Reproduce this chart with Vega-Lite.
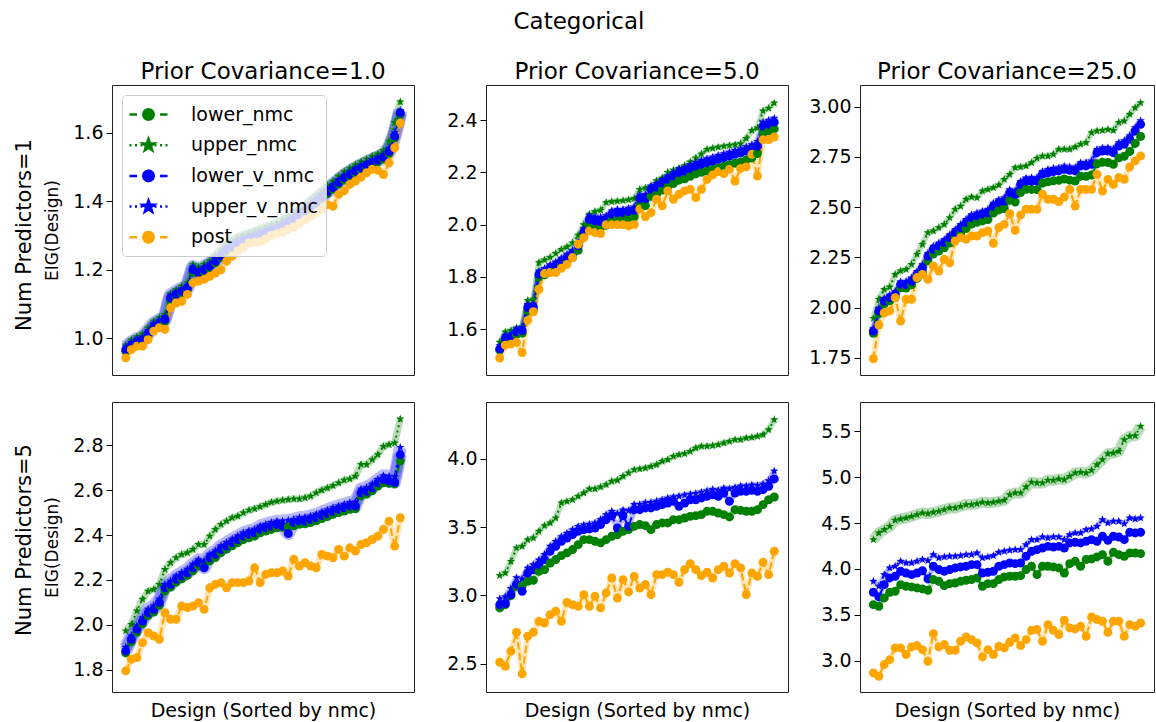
{
"$schema": "https://vega.github.io/schema/vega-lite/v6.json",
"padding": {"left": 13, "top": 10, "right": 0, "bottom": 2},
"title": {"text": "Categorical", "fontSize": 23, "offset": 9, "baseline": "alphabetic", "anchor": "middle", "dx": -5, "font": "DejaVu Sans", "fontWeight": "normal", "color": "black"},
"config": {
  "font": "DejaVu Sans",
  "view": {"stroke": "#222222", "strokeWidth": 1},
  "axis": {"grid": false, "domain": false, "labelFont": "DejaVu Sans", "titleFont": "DejaVu Sans", "labelFontSize": 19, "labelColor": "black", "titleColor": "black", "titleFontWeight": "normal", "tickColor": "black", "tickSize": 6, "tickWidth": 1, "labelPadding": 3, "labelOverlap": false},
  "title": {"font": "DejaVu Sans", "fontWeight": "normal", "color": "black", "fontSize": 23}
},
"data": {"values": [
{"p":1,"i":0,"lower_nmc":0.962,"upper_nmc":0.98,"lower_v_nmc":0.967,"upper_v_nmc":0.975,"post":0.943},
{"p":1,"i":1,"lower_nmc":0.976,"upper_nmc":0.995,"lower_v_nmc":0.98,"upper_v_nmc":0.988,"post":0.967},
{"p":1,"i":2,"lower_nmc":0.986,"upper_nmc":1.005,"lower_v_nmc":0.99,"upper_v_nmc":0.998,"post":0.977},
{"p":1,"i":3,"lower_nmc":0.99,"upper_nmc":1.012,"lower_v_nmc":0.996,"upper_v_nmc":1.004,"post":0.977},
{"p":1,"i":4,"lower_nmc":1.01,"upper_nmc":1.03,"lower_v_nmc":1.015,"upper_v_nmc":1.023,"post":0.996},
{"p":1,"i":5,"lower_nmc":1.03,"upper_nmc":1.05,"lower_v_nmc":1.035,"upper_v_nmc":1.043,"post":1.021},
{"p":1,"i":6,"lower_nmc":1.04,"upper_nmc":1.06,"lower_v_nmc":1.045,"upper_v_nmc":1.053,"post":1.031},
{"p":1,"i":7,"lower_nmc":1.05,"upper_nmc":1.07,"lower_v_nmc":1.055,"upper_v_nmc":1.063,"post":1.026},
{"p":1,"i":8,"lower_nmc":1.11,"upper_nmc":1.13,"lower_v_nmc":1.118,"upper_v_nmc":1.126,"post":1.089},
{"p":1,"i":9,"lower_nmc":1.122,"upper_nmc":1.142,"lower_v_nmc":1.128,"upper_v_nmc":1.136,"post":1.103},
{"p":1,"i":10,"lower_nmc":1.132,"upper_nmc":1.152,"lower_v_nmc":1.137,"upper_v_nmc":1.145,"post":1.108},
{"p":1,"i":11,"lower_nmc":1.142,"upper_nmc":1.162,"lower_v_nmc":1.147,"upper_v_nmc":1.155,"post":1.128},
{"p":1,"i":12,"lower_nmc":1.193,"upper_nmc":1.215,"lower_v_nmc":1.2,"upper_v_nmc":1.208,"post":1.162},
{"p":1,"i":13,"lower_nmc":1.188,"upper_nmc":1.208,"lower_v_nmc":1.192,"upper_v_nmc":1.2,"post":1.167},
{"p":1,"i":14,"lower_nmc":1.195,"upper_nmc":1.216,"lower_v_nmc":1.2,"upper_v_nmc":1.208,"post":1.172},
{"p":1,"i":15,"lower_nmc":1.205,"upper_nmc":1.226,"lower_v_nmc":1.21,"upper_v_nmc":1.218,"post":1.181},
{"p":1,"i":16,"lower_nmc":1.22,"upper_nmc":1.242,"lower_v_nmc":1.225,"upper_v_nmc":1.233,"post":1.19},
{"p":1,"i":17,"lower_nmc":1.236,"upper_nmc":1.257,"lower_v_nmc":1.24,"upper_v_nmc":1.248,"post":1.2},
{"p":1,"i":18,"lower_nmc":1.253,"upper_nmc":1.275,"lower_v_nmc":1.258,"upper_v_nmc":1.266,"post":1.225},
{"p":1,"i":19,"lower_nmc":1.263,"upper_nmc":1.285,"lower_v_nmc":1.268,"upper_v_nmc":1.276,"post":1.24},
{"p":1,"i":20,"lower_nmc":1.272,"upper_nmc":1.295,"lower_v_nmc":1.278,"upper_v_nmc":1.286,"post":1.255},
{"p":1,"i":21,"lower_nmc":1.28,"upper_nmc":1.302,"lower_v_nmc":1.285,"upper_v_nmc":1.293,"post":1.265},
{"p":1,"i":22,"lower_nmc":1.286,"upper_nmc":1.308,"lower_v_nmc":1.29,"upper_v_nmc":1.298,"post":1.278},
{"p":1,"i":23,"lower_nmc":1.291,"upper_nmc":1.314,"lower_v_nmc":1.296,"upper_v_nmc":1.304,"post":1.28},
{"p":1,"i":24,"lower_nmc":1.297,"upper_nmc":1.32,"lower_v_nmc":1.302,"upper_v_nmc":1.31,"post":1.282},
{"p":1,"i":25,"lower_nmc":1.303,"upper_nmc":1.326,"lower_v_nmc":1.308,"upper_v_nmc":1.316,"post":1.29},
{"p":1,"i":26,"lower_nmc":1.309,"upper_nmc":1.332,"lower_v_nmc":1.314,"upper_v_nmc":1.322,"post":1.3},
{"p":1,"i":27,"lower_nmc":1.316,"upper_nmc":1.338,"lower_v_nmc":1.32,"upper_v_nmc":1.328,"post":1.305},
{"p":1,"i":28,"lower_nmc":1.323,"upper_nmc":1.346,"lower_v_nmc":1.328,"upper_v_nmc":1.336,"post":1.31},
{"p":1,"i":29,"lower_nmc":1.332,"upper_nmc":1.355,"lower_v_nmc":1.337,"upper_v_nmc":1.345,"post":1.318},
{"p":1,"i":30,"lower_nmc":1.342,"upper_nmc":1.365,"lower_v_nmc":1.347,"upper_v_nmc":1.355,"post":1.325},
{"p":1,"i":31,"lower_nmc":1.355,"upper_nmc":1.378,"lower_v_nmc":1.36,"upper_v_nmc":1.368,"post":1.335},
{"p":1,"i":32,"lower_nmc":1.367,"upper_nmc":1.39,"lower_v_nmc":1.372,"upper_v_nmc":1.38,"post":1.345},
{"p":1,"i":33,"lower_nmc":1.38,"upper_nmc":1.403,"lower_v_nmc":1.385,"upper_v_nmc":1.393,"post":1.355},
{"p":1,"i":34,"lower_nmc":1.393,"upper_nmc":1.416,"lower_v_nmc":1.398,"upper_v_nmc":1.406,"post":1.365},
{"p":1,"i":35,"lower_nmc":1.406,"upper_nmc":1.43,"lower_v_nmc":1.412,"upper_v_nmc":1.42,"post":1.376},
{"p":1,"i":36,"lower_nmc":1.422,"upper_nmc":1.446,"lower_v_nmc":1.428,"upper_v_nmc":1.436,"post":1.39},
{"p":1,"i":37,"lower_nmc":1.435,"upper_nmc":1.458,"lower_v_nmc":1.44,"upper_v_nmc":1.448,"post":1.385},
{"p":1,"i":38,"lower_nmc":1.45,"upper_nmc":1.473,"lower_v_nmc":1.455,"upper_v_nmc":1.463,"post":1.42},
{"p":1,"i":39,"lower_nmc":1.462,"upper_nmc":1.486,"lower_v_nmc":1.468,"upper_v_nmc":1.476,"post":1.43},
{"p":1,"i":40,"lower_nmc":1.473,"upper_nmc":1.496,"lower_v_nmc":1.478,"upper_v_nmc":1.486,"post":1.449},
{"p":1,"i":41,"lower_nmc":1.483,"upper_nmc":1.506,"lower_v_nmc":1.488,"upper_v_nmc":1.496,"post":1.459},
{"p":1,"i":42,"lower_nmc":1.492,"upper_nmc":1.515,"lower_v_nmc":1.497,"upper_v_nmc":1.505,"post":1.47},
{"p":1,"i":43,"lower_nmc":1.5,"upper_nmc":1.523,"lower_v_nmc":1.505,"upper_v_nmc":1.513,"post":1.483},
{"p":1,"i":44,"lower_nmc":1.508,"upper_nmc":1.531,"lower_v_nmc":1.513,"upper_v_nmc":1.521,"post":1.493},
{"p":1,"i":45,"lower_nmc":1.515,"upper_nmc":1.538,"lower_v_nmc":1.52,"upper_v_nmc":1.528,"post":1.49},
{"p":1,"i":46,"lower_nmc":1.523,"upper_nmc":1.548,"lower_v_nmc":1.528,"upper_v_nmc":1.536,"post":1.478},
{"p":1,"i":47,"lower_nmc":1.54,"upper_nmc":1.575,"lower_v_nmc":1.545,"upper_v_nmc":1.555,"post":1.512},
{"p":1,"i":48,"lower_nmc":1.585,"upper_nmc":1.63,"lower_v_nmc":1.59,"upper_v_nmc":1.6,"post":1.556},
{"p":1,"i":49,"lower_nmc":1.652,"upper_nmc":1.69,"lower_v_nmc":1.658,"upper_v_nmc":1.665,"post":1.628},
{"p":2,"i":0,"lower_nmc":1.52,"upper_nmc":1.55,"lower_v_nmc":1.525,"upper_v_nmc":1.537,"post":1.49},
{"p":2,"i":1,"lower_nmc":1.558,"upper_nmc":1.59,"lower_v_nmc":1.565,"upper_v_nmc":1.577,"post":1.539},
{"p":2,"i":2,"lower_nmc":1.562,"upper_nmc":1.595,"lower_v_nmc":1.57,"upper_v_nmc":1.582,"post":1.543},
{"p":2,"i":3,"lower_nmc":1.58,"upper_nmc":1.605,"lower_v_nmc":1.59,"upper_v_nmc":1.602,"post":1.55},
{"p":2,"i":4,"lower_nmc":1.585,"upper_nmc":1.61,"lower_v_nmc":1.595,"upper_v_nmc":1.607,"post":1.511},
{"p":2,"i":5,"lower_nmc":1.67,"upper_nmc":1.71,"lower_v_nmc":1.683,"upper_v_nmc":1.695,"post":1.634},
{"p":2,"i":6,"lower_nmc":1.672,"upper_nmc":1.715,"lower_v_nmc":1.685,"upper_v_nmc":1.697,"post":1.667},
{"p":2,"i":7,"lower_nmc":1.8,"upper_nmc":1.855,"lower_v_nmc":1.81,"upper_v_nmc":1.822,"post":1.753},
{"p":2,"i":8,"lower_nmc":1.808,"upper_nmc":1.865,"lower_v_nmc":1.82,"upper_v_nmc":1.832,"post":1.813},
{"p":2,"i":9,"lower_nmc":1.822,"upper_nmc":1.875,"lower_v_nmc":1.835,"upper_v_nmc":1.847,"post":1.817},
{"p":2,"i":10,"lower_nmc":1.832,"upper_nmc":1.89,"lower_v_nmc":1.845,"upper_v_nmc":1.857,"post":1.817},
{"p":2,"i":11,"lower_nmc":1.846,"upper_nmc":1.905,"lower_v_nmc":1.86,"upper_v_nmc":1.872,"post":1.833},
{"p":2,"i":12,"lower_nmc":1.86,"upper_nmc":1.915,"lower_v_nmc":1.875,"upper_v_nmc":1.887,"post":1.848},
{"p":2,"i":13,"lower_nmc":1.874,"upper_nmc":1.93,"lower_v_nmc":1.89,"upper_v_nmc":1.902,"post":1.874},
{"p":2,"i":14,"lower_nmc":1.902,"upper_nmc":1.96,"lower_v_nmc":1.92,"upper_v_nmc":1.932,"post":1.925},
{"p":2,"i":15,"lower_nmc":1.952,"upper_nmc":2.0,"lower_v_nmc":1.972,"upper_v_nmc":1.984,"post":1.95},
{"p":2,"i":16,"lower_nmc":1.998,"upper_nmc":2.04,"lower_v_nmc":2.02,"upper_v_nmc":2.034,"post":1.976},
{"p":2,"i":17,"lower_nmc":1.995,"upper_nmc":2.05,"lower_v_nmc":2.015,"upper_v_nmc":2.03,"post":1.97},
{"p":2,"i":18,"lower_nmc":1.99,"upper_nmc":2.055,"lower_v_nmc":2.012,"upper_v_nmc":2.028,"post":1.966},
{"p":2,"i":19,"lower_nmc":1.998,"upper_nmc":2.085,"lower_v_nmc":2.02,"upper_v_nmc":2.034,"post":2.0},
{"p":2,"i":20,"lower_nmc":2.018,"upper_nmc":2.088,"lower_v_nmc":2.04,"upper_v_nmc":2.053,"post":2.0},
{"p":2,"i":21,"lower_nmc":2.022,"upper_nmc":2.09,"lower_v_nmc":2.045,"upper_v_nmc":2.058,"post":2.0},
{"p":2,"i":22,"lower_nmc":2.022,"upper_nmc":2.092,"lower_v_nmc":2.045,"upper_v_nmc":2.058,"post":2.0},
{"p":2,"i":23,"lower_nmc":2.027,"upper_nmc":2.095,"lower_v_nmc":2.05,"upper_v_nmc":2.063,"post":1.995},
{"p":2,"i":24,"lower_nmc":2.03,"upper_nmc":2.1,"lower_v_nmc":2.055,"upper_v_nmc":2.068,"post":2.0},
{"p":2,"i":25,"lower_nmc":2.074,"upper_nmc":2.135,"lower_v_nmc":2.1,"upper_v_nmc":2.114,"post":2.059},
{"p":2,"i":26,"lower_nmc":2.073,"upper_nmc":2.14,"lower_v_nmc":2.1,"upper_v_nmc":2.115,"post":2.03},
{"p":2,"i":27,"lower_nmc":2.108,"upper_nmc":2.145,"lower_v_nmc":2.135,"upper_v_nmc":2.148,"post":2.046},
{"p":2,"i":28,"lower_nmc":2.116,"upper_nmc":2.168,"lower_v_nmc":2.144,"upper_v_nmc":2.157,"post":2.097},
{"p":2,"i":29,"lower_nmc":2.132,"upper_nmc":2.178,"lower_v_nmc":2.16,"upper_v_nmc":2.173,"post":2.072},
{"p":2,"i":30,"lower_nmc":2.145,"upper_nmc":2.2,"lower_v_nmc":2.173,"upper_v_nmc":2.186,"post":2.129},
{"p":2,"i":31,"lower_nmc":2.157,"upper_nmc":2.208,"lower_v_nmc":2.186,"upper_v_nmc":2.2,"post":2.097},
{"p":2,"i":32,"lower_nmc":2.17,"upper_nmc":2.215,"lower_v_nmc":2.199,"upper_v_nmc":2.213,"post":2.116},
{"p":2,"i":33,"lower_nmc":2.175,"upper_nmc":2.225,"lower_v_nmc":2.205,"upper_v_nmc":2.219,"post":2.129},
{"p":2,"i":34,"lower_nmc":2.185,"upper_nmc":2.24,"lower_v_nmc":2.215,"upper_v_nmc":2.229,"post":2.135},
{"p":2,"i":35,"lower_nmc":2.194,"upper_nmc":2.255,"lower_v_nmc":2.224,"upper_v_nmc":2.238,"post":2.103},
{"p":2,"i":36,"lower_nmc":2.2,"upper_nmc":2.27,"lower_v_nmc":2.231,"upper_v_nmc":2.246,"post":2.135},
{"p":2,"i":37,"lower_nmc":2.205,"upper_nmc":2.288,"lower_v_nmc":2.237,"upper_v_nmc":2.252,"post":2.173},
{"p":2,"i":38,"lower_nmc":2.211,"upper_nmc":2.292,"lower_v_nmc":2.243,"upper_v_nmc":2.258,"post":2.19},
{"p":2,"i":39,"lower_nmc":2.218,"upper_nmc":2.296,"lower_v_nmc":2.25,"upper_v_nmc":2.265,"post":2.203},
{"p":2,"i":40,"lower_nmc":2.223,"upper_nmc":2.3,"lower_v_nmc":2.256,"upper_v_nmc":2.271,"post":2.195},
{"p":2,"i":41,"lower_nmc":2.229,"upper_nmc":2.303,"lower_v_nmc":2.262,"upper_v_nmc":2.277,"post":2.212},
{"p":2,"i":42,"lower_nmc":2.235,"upper_nmc":2.306,"lower_v_nmc":2.269,"upper_v_nmc":2.284,"post":2.167},
{"p":2,"i":43,"lower_nmc":2.24,"upper_nmc":2.31,"lower_v_nmc":2.275,"upper_v_nmc":2.29,"post":2.215},
{"p":2,"i":44,"lower_nmc":2.248,"upper_nmc":2.33,"lower_v_nmc":2.282,"upper_v_nmc":2.298,"post":2.221},
{"p":2,"i":45,"lower_nmc":2.255,"upper_nmc":2.36,"lower_v_nmc":2.29,"upper_v_nmc":2.306,"post":2.269},
{"p":2,"i":46,"lower_nmc":2.272,"upper_nmc":2.37,"lower_v_nmc":2.3,"upper_v_nmc":2.318,"post":2.186},
{"p":2,"i":47,"lower_nmc":2.35,"upper_nmc":2.435,"lower_v_nmc":2.377,"upper_v_nmc":2.392,"post":2.325},
{"p":2,"i":48,"lower_nmc":2.358,"upper_nmc":2.445,"lower_v_nmc":2.384,"upper_v_nmc":2.399,"post":2.325},
{"p":2,"i":49,"lower_nmc":2.366,"upper_nmc":2.465,"lower_v_nmc":2.392,"upper_v_nmc":2.407,"post":2.335},
{"p":3,"i":0,"lower_nmc":1.872,"upper_nmc":1.946,"lower_v_nmc":1.883,"upper_v_nmc":1.895,"post":1.745},
{"p":3,"i":1,"lower_nmc":1.97,"upper_nmc":2.041,"lower_v_nmc":1.983,"upper_v_nmc":1.995,"post":1.913},
{"p":3,"i":2,"lower_nmc":2.018,"upper_nmc":2.09,"lower_v_nmc":2.032,"upper_v_nmc":2.045,"post":1.974},
{"p":3,"i":3,"lower_nmc":2.034,"upper_nmc":2.102,"lower_v_nmc":2.049,"upper_v_nmc":2.062,"post":1.983},
{"p":3,"i":4,"lower_nmc":2.05,"upper_nmc":2.165,"lower_v_nmc":2.066,"upper_v_nmc":2.08,"post":2.049},
{"p":3,"i":5,"lower_nmc":2.098,"upper_nmc":2.182,"lower_v_nmc":2.115,"upper_v_nmc":2.128,"post":1.933},
{"p":3,"i":6,"lower_nmc":2.097,"upper_nmc":2.19,"lower_v_nmc":2.115,"upper_v_nmc":2.13,"post":2.041},
{"p":3,"i":7,"lower_nmc":2.113,"upper_nmc":2.215,"lower_v_nmc":2.132,"upper_v_nmc":2.147,"post":2.041},
{"p":3,"i":8,"lower_nmc":2.145,"upper_nmc":2.265,"lower_v_nmc":2.165,"upper_v_nmc":2.18,"post":2.149},
{"p":3,"i":9,"lower_nmc":2.177,"upper_nmc":2.315,"lower_v_nmc":2.198,"upper_v_nmc":2.213,"post":2.165},
{"p":3,"i":10,"lower_nmc":2.233,"upper_nmc":2.373,"lower_v_nmc":2.256,"upper_v_nmc":2.27,"post":2.14},
{"p":3,"i":11,"lower_nmc":2.266,"upper_nmc":2.381,"lower_v_nmc":2.29,"upper_v_nmc":2.305,"post":2.207},
{"p":3,"i":12,"lower_nmc":2.281,"upper_nmc":2.398,"lower_v_nmc":2.306,"upper_v_nmc":2.321,"post":2.182},
{"p":3,"i":13,"lower_nmc":2.297,"upper_nmc":2.414,"lower_v_nmc":2.323,"upper_v_nmc":2.338,"post":2.24},
{"p":3,"i":14,"lower_nmc":2.321,"upper_nmc":2.447,"lower_v_nmc":2.348,"upper_v_nmc":2.363,"post":2.223},
{"p":3,"i":15,"lower_nmc":2.345,"upper_nmc":2.489,"lower_v_nmc":2.373,"upper_v_nmc":2.388,"post":2.331},
{"p":3,"i":16,"lower_nmc":2.369,"upper_nmc":2.505,"lower_v_nmc":2.398,"upper_v_nmc":2.413,"post":2.348},
{"p":3,"i":17,"lower_nmc":2.393,"upper_nmc":2.539,"lower_v_nmc":2.423,"upper_v_nmc":2.438,"post":2.34},
{"p":3,"i":18,"lower_nmc":2.416,"upper_nmc":2.55,"lower_v_nmc":2.447,"upper_v_nmc":2.462,"post":2.356},
{"p":3,"i":19,"lower_nmc":2.424,"upper_nmc":2.547,"lower_v_nmc":2.456,"upper_v_nmc":2.471,"post":2.356},
{"p":3,"i":20,"lower_nmc":2.431,"upper_nmc":2.58,"lower_v_nmc":2.464,"upper_v_nmc":2.48,"post":2.373},
{"p":3,"i":21,"lower_nmc":2.438,"upper_nmc":2.588,"lower_v_nmc":2.472,"upper_v_nmc":2.488,"post":2.381},
{"p":3,"i":22,"lower_nmc":2.47,"upper_nmc":2.597,"lower_v_nmc":2.505,"upper_v_nmc":2.52,"post":2.32},
{"p":3,"i":23,"lower_nmc":2.486,"upper_nmc":2.61,"lower_v_nmc":2.522,"upper_v_nmc":2.537,"post":2.398},
{"p":3,"i":24,"lower_nmc":2.493,"upper_nmc":2.638,"lower_v_nmc":2.53,"upper_v_nmc":2.546,"post":2.414},
{"p":3,"i":25,"lower_nmc":2.534,"upper_nmc":2.663,"lower_v_nmc":2.572,"upper_v_nmc":2.587,"post":2.467},
{"p":3,"i":26,"lower_nmc":2.525,"upper_nmc":2.696,"lower_v_nmc":2.564,"upper_v_nmc":2.58,"post":2.384},
{"p":3,"i":27,"lower_nmc":2.573,"upper_nmc":2.7,"lower_v_nmc":2.613,"upper_v_nmc":2.628,"post":2.461},
{"p":3,"i":28,"lower_nmc":2.589,"upper_nmc":2.705,"lower_v_nmc":2.63,"upper_v_nmc":2.645,"post":2.489},
{"p":3,"i":29,"lower_nmc":2.588,"upper_nmc":2.721,"lower_v_nmc":2.63,"upper_v_nmc":2.646,"post":2.489},
{"p":3,"i":30,"lower_nmc":2.587,"upper_nmc":2.743,"lower_v_nmc":2.63,"upper_v_nmc":2.647,"post":2.489},
{"p":3,"i":31,"lower_nmc":2.619,"upper_nmc":2.754,"lower_v_nmc":2.663,"upper_v_nmc":2.678,"post":2.564},
{"p":3,"i":32,"lower_nmc":2.626,"upper_nmc":2.754,"lower_v_nmc":2.671,"upper_v_nmc":2.687,"post":2.539},
{"p":3,"i":33,"lower_nmc":2.631,"upper_nmc":2.763,"lower_v_nmc":2.677,"upper_v_nmc":2.693,"post":2.539},
{"p":3,"i":34,"lower_nmc":2.633,"upper_nmc":2.788,"lower_v_nmc":2.68,"upper_v_nmc":2.696,"post":2.527},
{"p":3,"i":35,"lower_nmc":2.64,"upper_nmc":2.788,"lower_v_nmc":2.688,"upper_v_nmc":2.704,"post":2.55},
{"p":3,"i":36,"lower_nmc":2.634,"upper_nmc":2.788,"lower_v_nmc":2.683,"upper_v_nmc":2.7,"post":2.588},
{"p":3,"i":37,"lower_nmc":2.63,"upper_nmc":2.799,"lower_v_nmc":2.68,"upper_v_nmc":2.697,"post":2.505},
{"p":3,"i":38,"lower_nmc":2.654,"upper_nmc":2.813,"lower_v_nmc":2.705,"upper_v_nmc":2.721,"post":2.588},
{"p":3,"i":39,"lower_nmc":2.653,"upper_nmc":2.821,"lower_v_nmc":2.705,"upper_v_nmc":2.722,"post":2.588},
{"p":3,"i":40,"lower_nmc":2.66,"upper_nmc":2.871,"lower_v_nmc":2.713,"upper_v_nmc":2.73,"post":2.588},
{"p":3,"i":41,"lower_nmc":2.716,"upper_nmc":2.879,"lower_v_nmc":2.771,"upper_v_nmc":2.787,"post":2.663},
{"p":3,"i":42,"lower_nmc":2.723,"upper_nmc":2.882,"lower_v_nmc":2.779,"upper_v_nmc":2.795,"post":2.58},
{"p":3,"i":43,"lower_nmc":2.722,"upper_nmc":2.887,"lower_v_nmc":2.779,"upper_v_nmc":2.796,"post":2.638},
{"p":3,"i":44,"lower_nmc":2.713,"upper_nmc":2.882,"lower_v_nmc":2.771,"upper_v_nmc":2.789,"post":2.613},
{"p":3,"i":45,"lower_nmc":2.745,"upper_nmc":2.921,"lower_v_nmc":2.804,"upper_v_nmc":2.821,"post":2.647},
{"p":3,"i":46,"lower_nmc":2.753,"upper_nmc":2.929,"lower_v_nmc":2.813,"upper_v_nmc":2.83,"post":2.638},
{"p":3,"i":47,"lower_nmc":2.777,"upper_nmc":2.962,"lower_v_nmc":2.838,"upper_v_nmc":2.855,"post":2.7},
{"p":3,"i":48,"lower_nmc":2.817,"upper_nmc":2.995,"lower_v_nmc":2.879,"upper_v_nmc":2.896,"post":2.73},
{"p":3,"i":49,"lower_nmc":2.852,"upper_nmc":3.02,"lower_v_nmc":2.912,"upper_v_nmc":2.93,"post":2.754},
{"p":4,"i":0,"lower_nmc":1.875,"upper_nmc":1.973,"lower_v_nmc":1.884,"upper_v_nmc":1.9,"post":1.795},
{"p":4,"i":1,"lower_nmc":1.925,"upper_nmc":2.002,"lower_v_nmc":1.936,"upper_v_nmc":1.952,"post":1.847},
{"p":4,"i":2,"lower_nmc":1.968,"upper_nmc":2.062,"lower_v_nmc":1.98,"upper_v_nmc":1.996,"post":1.854},
{"p":4,"i":3,"lower_nmc":2.005,"upper_nmc":2.114,"lower_v_nmc":2.017,"upper_v_nmc":2.033,"post":1.921},
{"p":4,"i":4,"lower_nmc":2.042,"upper_nmc":2.15,"lower_v_nmc":2.054,"upper_v_nmc":2.07,"post":1.965},
{"p":4,"i":5,"lower_nmc":2.057,"upper_nmc":2.158,"lower_v_nmc":2.069,"upper_v_nmc":2.085,"post":1.95},
{"p":4,"i":6,"lower_nmc":2.087,"upper_nmc":2.18,"lower_v_nmc":2.099,"upper_v_nmc":2.115,"post":1.936},
{"p":4,"i":7,"lower_nmc":2.152,"upper_nmc":2.247,"lower_v_nmc":2.165,"upper_v_nmc":2.18,"post":2.054},
{"p":4,"i":8,"lower_nmc":2.168,"upper_nmc":2.277,"lower_v_nmc":2.18,"upper_v_nmc":2.196,"post":2.025},
{"p":4,"i":9,"lower_nmc":2.19,"upper_nmc":2.299,"lower_v_nmc":2.203,"upper_v_nmc":2.218,"post":2.025},
{"p":4,"i":10,"lower_nmc":2.205,"upper_nmc":2.314,"lower_v_nmc":2.217,"upper_v_nmc":2.233,"post":2.084},
{"p":4,"i":11,"lower_nmc":2.22,"upper_nmc":2.321,"lower_v_nmc":2.232,"upper_v_nmc":2.248,"post":2.077},
{"p":4,"i":12,"lower_nmc":2.241,"upper_nmc":2.336,"lower_v_nmc":2.254,"upper_v_nmc":2.27,"post":2.084},
{"p":4,"i":13,"lower_nmc":2.262,"upper_nmc":2.358,"lower_v_nmc":2.277,"upper_v_nmc":2.29,"post":2.099},
{"p":4,"i":14,"lower_nmc":2.26,"upper_nmc":2.358,"lower_v_nmc":2.254,"upper_v_nmc":2.285,"post":2.069},
{"p":4,"i":15,"lower_nmc":2.285,"upper_nmc":2.395,"lower_v_nmc":2.299,"upper_v_nmc":2.315,"post":2.165},
{"p":4,"i":16,"lower_nmc":2.3,"upper_nmc":2.425,"lower_v_nmc":2.314,"upper_v_nmc":2.33,"post":2.18},
{"p":4,"i":17,"lower_nmc":2.322,"upper_nmc":2.447,"lower_v_nmc":2.336,"upper_v_nmc":2.352,"post":2.188},
{"p":4,"i":18,"lower_nmc":2.337,"upper_nmc":2.462,"lower_v_nmc":2.351,"upper_v_nmc":2.367,"post":2.165},
{"p":4,"i":19,"lower_nmc":2.352,"upper_nmc":2.477,"lower_v_nmc":2.366,"upper_v_nmc":2.382,"post":2.188},
{"p":4,"i":20,"lower_nmc":2.366,"upper_nmc":2.484,"lower_v_nmc":2.38,"upper_v_nmc":2.396,"post":2.188},
{"p":4,"i":21,"lower_nmc":2.38,"upper_nmc":2.499,"lower_v_nmc":2.395,"upper_v_nmc":2.41,"post":2.188},
{"p":4,"i":22,"lower_nmc":2.388,"upper_nmc":2.511,"lower_v_nmc":2.403,"upper_v_nmc":2.419,"post":2.195},
{"p":4,"i":23,"lower_nmc":2.395,"upper_nmc":2.517,"lower_v_nmc":2.41,"upper_v_nmc":2.426,"post":2.254},
{"p":4,"i":24,"lower_nmc":2.41,"upper_nmc":2.526,"lower_v_nmc":2.425,"upper_v_nmc":2.44,"post":2.188},
{"p":4,"i":25,"lower_nmc":2.418,"upper_nmc":2.536,"lower_v_nmc":2.432,"upper_v_nmc":2.448,"post":2.225},
{"p":4,"i":26,"lower_nmc":2.425,"upper_nmc":2.546,"lower_v_nmc":2.44,"upper_v_nmc":2.456,"post":2.232},
{"p":4,"i":27,"lower_nmc":2.432,"upper_nmc":2.551,"lower_v_nmc":2.447,"upper_v_nmc":2.462,"post":2.232},
{"p":4,"i":28,"lower_nmc":2.434,"upper_nmc":2.555,"lower_v_nmc":2.44,"upper_v_nmc":2.463,"post":2.24},
{"p":4,"i":29,"lower_nmc":2.436,"upper_nmc":2.558,"lower_v_nmc":2.407,"upper_v_nmc":2.466,"post":2.217},
{"p":4,"i":30,"lower_nmc":2.441,"upper_nmc":2.561,"lower_v_nmc":2.455,"upper_v_nmc":2.47,"post":2.292},
{"p":4,"i":31,"lower_nmc":2.448,"upper_nmc":2.561,"lower_v_nmc":2.462,"upper_v_nmc":2.477,"post":2.262},
{"p":4,"i":32,"lower_nmc":2.45,"upper_nmc":2.566,"lower_v_nmc":2.462,"upper_v_nmc":2.479,"post":2.277},
{"p":4,"i":33,"lower_nmc":2.456,"upper_nmc":2.573,"lower_v_nmc":2.469,"upper_v_nmc":2.485,"post":2.262},
{"p":4,"i":34,"lower_nmc":2.463,"upper_nmc":2.588,"lower_v_nmc":2.477,"upper_v_nmc":2.493,"post":2.254},
{"p":4,"i":35,"lower_nmc":2.473,"upper_nmc":2.6,"lower_v_nmc":2.487,"upper_v_nmc":2.503,"post":2.314},
{"p":4,"i":36,"lower_nmc":2.482,"upper_nmc":2.61,"lower_v_nmc":2.496,"upper_v_nmc":2.512,"post":2.306},
{"p":4,"i":37,"lower_nmc":2.492,"upper_nmc":2.62,"lower_v_nmc":2.506,"upper_v_nmc":2.522,"post":2.299},
{"p":4,"i":38,"lower_nmc":2.5,"upper_nmc":2.632,"lower_v_nmc":2.514,"upper_v_nmc":2.53,"post":2.336},
{"p":4,"i":39,"lower_nmc":2.507,"upper_nmc":2.644,"lower_v_nmc":2.521,"upper_v_nmc":2.537,"post":2.306},
{"p":4,"i":40,"lower_nmc":2.515,"upper_nmc":2.65,"lower_v_nmc":2.529,"upper_v_nmc":2.545,"post":2.343},
{"p":4,"i":41,"lower_nmc":2.517,"upper_nmc":2.662,"lower_v_nmc":2.529,"upper_v_nmc":2.548,"post":2.329},
{"p":4,"i":42,"lower_nmc":2.575,"upper_nmc":2.714,"lower_v_nmc":2.588,"upper_v_nmc":2.605,"post":2.358},
{"p":4,"i":43,"lower_nmc":2.582,"upper_nmc":2.714,"lower_v_nmc":2.595,"upper_v_nmc":2.612,"post":2.366},
{"p":4,"i":44,"lower_nmc":2.597,"upper_nmc":2.736,"lower_v_nmc":2.61,"upper_v_nmc":2.627,"post":2.38},
{"p":4,"i":45,"lower_nmc":2.618,"upper_nmc":2.758,"lower_v_nmc":2.632,"upper_v_nmc":2.648,"post":2.395},
{"p":4,"i":46,"lower_nmc":2.633,"upper_nmc":2.795,"lower_v_nmc":2.647,"upper_v_nmc":2.664,"post":2.425},
{"p":4,"i":47,"lower_nmc":2.63,"upper_nmc":2.803,"lower_v_nmc":2.64,"upper_v_nmc":2.662,"post":2.462},
{"p":4,"i":48,"lower_nmc":2.628,"upper_nmc":2.81,"lower_v_nmc":2.635,"upper_v_nmc":2.66,"post":2.351},
{"p":4,"i":49,"lower_nmc":2.73,"upper_nmc":2.917,"lower_v_nmc":2.758,"upper_v_nmc":2.79,"post":2.477},
{"p":5,"i":0,"lower_nmc":2.908,"upper_nmc":3.145,"lower_v_nmc":2.932,"upper_v_nmc":2.975,"post":2.511},
{"p":5,"i":1,"lower_nmc":2.932,"upper_nmc":3.164,"lower_v_nmc":2.94,"upper_v_nmc":2.99,"post":2.481},
{"p":5,"i":2,"lower_nmc":2.998,"upper_nmc":3.249,"lower_v_nmc":3.005,"upper_v_nmc":3.05,"post":2.591},
{"p":5,"i":3,"lower_nmc":3.066,"upper_nmc":3.347,"lower_v_nmc":3.08,"upper_v_nmc":3.13,"post":2.73},
{"p":5,"i":4,"lower_nmc":3.071,"upper_nmc":3.359,"lower_v_nmc":3.03,"upper_v_nmc":3.12,"post":2.425},
{"p":5,"i":5,"lower_nmc":3.103,"upper_nmc":3.408,"lower_v_nmc":3.164,"upper_v_nmc":3.2,"post":2.701},
{"p":5,"i":6,"lower_nmc":3.11,"upper_nmc":3.42,"lower_v_nmc":3.188,"upper_v_nmc":3.225,"post":2.73},
{"p":5,"i":7,"lower_nmc":3.176,"upper_nmc":3.469,"lower_v_nmc":3.225,"upper_v_nmc":3.26,"post":2.81},
{"p":5,"i":8,"lower_nmc":3.188,"upper_nmc":3.51,"lower_v_nmc":3.262,"upper_v_nmc":3.3,"post":2.798},
{"p":5,"i":9,"lower_nmc":3.237,"upper_nmc":3.53,"lower_v_nmc":3.323,"upper_v_nmc":3.36,"post":2.859},
{"p":5,"i":10,"lower_nmc":3.262,"upper_nmc":3.566,"lower_v_nmc":3.359,"upper_v_nmc":3.395,"post":2.884},
{"p":5,"i":11,"lower_nmc":3.291,"upper_nmc":3.676,"lower_v_nmc":3.396,"upper_v_nmc":3.43,"post":2.81},
{"p":5,"i":12,"lower_nmc":3.311,"upper_nmc":3.688,"lower_v_nmc":3.42,"upper_v_nmc":3.455,"post":2.949},
{"p":5,"i":13,"lower_nmc":3.335,"upper_nmc":3.7,"lower_v_nmc":3.444,"upper_v_nmc":3.48,"post":2.932},
{"p":5,"i":14,"lower_nmc":3.371,"upper_nmc":3.725,"lower_v_nmc":3.469,"upper_v_nmc":3.505,"post":2.92},
{"p":5,"i":15,"lower_nmc":3.408,"upper_nmc":3.749,"lower_v_nmc":3.481,"upper_v_nmc":3.515,"post":3.005},
{"p":5,"i":16,"lower_nmc":3.408,"upper_nmc":3.779,"lower_v_nmc":3.486,"upper_v_nmc":3.52,"post":2.92},
{"p":5,"i":17,"lower_nmc":3.396,"upper_nmc":3.779,"lower_v_nmc":3.493,"upper_v_nmc":3.53,"post":2.993},
{"p":5,"i":18,"lower_nmc":3.384,"upper_nmc":3.793,"lower_v_nmc":3.518,"upper_v_nmc":3.555,"post":2.908},
{"p":5,"i":19,"lower_nmc":3.408,"upper_nmc":3.81,"lower_v_nmc":3.554,"upper_v_nmc":3.59,"post":3.018},
{"p":5,"i":20,"lower_nmc":3.432,"upper_nmc":3.835,"lower_v_nmc":3.583,"upper_v_nmc":3.615,"post":3.127},
{"p":5,"i":21,"lower_nmc":3.444,"upper_nmc":3.842,"lower_v_nmc":3.493,"upper_v_nmc":3.6,"post":2.981},
{"p":5,"i":22,"lower_nmc":3.469,"upper_nmc":3.871,"lower_v_nmc":3.583,"upper_v_nmc":3.625,"post":3.115},
{"p":5,"i":23,"lower_nmc":3.481,"upper_nmc":3.896,"lower_v_nmc":3.505,"upper_v_nmc":3.62,"post":3.025},
{"p":5,"i":24,"lower_nmc":3.505,"upper_nmc":3.92,"lower_v_nmc":3.627,"upper_v_nmc":3.665,"post":3.139},
{"p":5,"i":25,"lower_nmc":3.518,"upper_nmc":3.925,"lower_v_nmc":3.627,"upper_v_nmc":3.665,"post":3.054},
{"p":5,"i":26,"lower_nmc":3.51,"upper_nmc":3.932,"lower_v_nmc":3.64,"upper_v_nmc":3.678,"post":3.079},
{"p":5,"i":27,"lower_nmc":3.481,"upper_nmc":3.944,"lower_v_nmc":3.64,"upper_v_nmc":3.68,"post":3.005},
{"p":5,"i":28,"lower_nmc":3.518,"upper_nmc":3.957,"lower_v_nmc":3.652,"upper_v_nmc":3.69,"post":3.152},
{"p":5,"i":29,"lower_nmc":3.53,"upper_nmc":3.981,"lower_v_nmc":3.664,"upper_v_nmc":3.7,"post":3.152},
{"p":5,"i":30,"lower_nmc":3.53,"upper_nmc":3.993,"lower_v_nmc":3.676,"upper_v_nmc":3.712,"post":3.169},
{"p":5,"i":31,"lower_nmc":3.554,"upper_nmc":4.017,"lower_v_nmc":3.688,"upper_v_nmc":3.72,"post":3.152},
{"p":5,"i":32,"lower_nmc":3.554,"upper_nmc":4.03,"lower_v_nmc":3.652,"upper_v_nmc":3.725,"post":3.096},
{"p":5,"i":33,"lower_nmc":3.566,"upper_nmc":4.037,"lower_v_nmc":3.676,"upper_v_nmc":3.735,"post":3.188},
{"p":5,"i":34,"lower_nmc":3.578,"upper_nmc":4.054,"lower_v_nmc":3.7,"upper_v_nmc":3.74,"post":3.232},
{"p":5,"i":35,"lower_nmc":3.583,"upper_nmc":4.078,"lower_v_nmc":3.7,"upper_v_nmc":3.745,"post":3.188},
{"p":5,"i":36,"lower_nmc":3.591,"upper_nmc":4.091,"lower_v_nmc":3.713,"upper_v_nmc":3.755,"post":3.144},
{"p":5,"i":37,"lower_nmc":3.615,"upper_nmc":4.091,"lower_v_nmc":3.725,"upper_v_nmc":3.765,"post":3.169},
{"p":5,"i":38,"lower_nmc":3.615,"upper_nmc":4.096,"lower_v_nmc":3.737,"upper_v_nmc":3.775,"post":3.127},
{"p":5,"i":39,"lower_nmc":3.603,"upper_nmc":4.103,"lower_v_nmc":3.725,"upper_v_nmc":3.77,"post":3.188},
{"p":5,"i":40,"lower_nmc":3.591,"upper_nmc":4.115,"lower_v_nmc":3.749,"upper_v_nmc":3.785,"post":3.213},
{"p":5,"i":41,"lower_nmc":3.574,"upper_nmc":4.127,"lower_v_nmc":3.688,"upper_v_nmc":3.78,"post":3.164},
{"p":5,"i":42,"lower_nmc":3.627,"upper_nmc":4.139,"lower_v_nmc":3.749,"upper_v_nmc":3.79,"post":3.232},
{"p":5,"i":43,"lower_nmc":3.622,"upper_nmc":4.139,"lower_v_nmc":3.761,"upper_v_nmc":3.8,"post":3.201},
{"p":5,"i":44,"lower_nmc":3.615,"upper_nmc":4.152,"lower_v_nmc":3.761,"upper_v_nmc":3.8,"post":3.005},
{"p":5,"i":45,"lower_nmc":3.615,"upper_nmc":4.156,"lower_v_nmc":3.769,"upper_v_nmc":3.808,"post":3.164},
{"p":5,"i":46,"lower_nmc":3.627,"upper_nmc":4.164,"lower_v_nmc":3.761,"upper_v_nmc":3.805,"post":3.139},
{"p":5,"i":47,"lower_nmc":3.664,"upper_nmc":4.176,"lower_v_nmc":3.774,"upper_v_nmc":3.815,"post":3.242},
{"p":5,"i":48,"lower_nmc":3.7,"upper_nmc":4.213,"lower_v_nmc":3.798,"upper_v_nmc":3.84,"post":3.152},
{"p":5,"i":49,"lower_nmc":3.72,"upper_nmc":4.286,"lower_v_nmc":3.852,"upper_v_nmc":3.91,"post":3.323},
{"p":6,"i":0,"lower_nmc":3.611,"upper_nmc":4.319,"lower_v_nmc":3.746,"upper_v_nmc":3.865,"post":2.867},
{"p":6,"i":1,"lower_nmc":3.593,"upper_nmc":4.392,"lower_v_nmc":3.695,"upper_v_nmc":3.811,"post":2.831},
{"p":6,"i":2,"lower_nmc":3.684,"upper_nmc":4.428,"lower_v_nmc":3.829,"upper_v_nmc":3.938,"post":2.958},
{"p":6,"i":3,"lower_nmc":3.746,"upper_nmc":4.465,"lower_v_nmc":3.902,"upper_v_nmc":4.011,"post":3.012},
{"p":6,"i":4,"lower_nmc":3.757,"upper_nmc":4.53,"lower_v_nmc":3.92,"upper_v_nmc":4.029,"post":3.139},
{"p":6,"i":5,"lower_nmc":3.829,"upper_nmc":4.544,"lower_v_nmc":3.974,"upper_v_nmc":4.083,"post":3.139},
{"p":6,"i":6,"lower_nmc":3.811,"upper_nmc":4.555,"lower_v_nmc":3.956,"upper_v_nmc":4.065,"post":3.067},
{"p":6,"i":7,"lower_nmc":3.804,"upper_nmc":4.573,"lower_v_nmc":3.938,"upper_v_nmc":4.065,"post":3.15},
{"p":6,"i":8,"lower_nmc":3.793,"upper_nmc":4.592,"lower_v_nmc":3.956,"upper_v_nmc":4.083,"post":3.165},
{"p":6,"i":9,"lower_nmc":3.782,"upper_nmc":4.61,"lower_v_nmc":3.98,"upper_v_nmc":4.102,"post":3.121},
{"p":6,"i":10,"lower_nmc":3.767,"upper_nmc":4.603,"lower_v_nmc":3.891,"upper_v_nmc":4.09,"post":2.994},
{"p":6,"i":11,"lower_nmc":3.884,"upper_nmc":4.617,"lower_v_nmc":4.029,"upper_v_nmc":4.156,"post":3.295},
{"p":6,"i":12,"lower_nmc":3.865,"upper_nmc":4.628,"lower_v_nmc":3.993,"upper_v_nmc":4.12,"post":3.15},
{"p":6,"i":13,"lower_nmc":3.818,"upper_nmc":4.646,"lower_v_nmc":3.974,"upper_v_nmc":4.131,"post":3.176},
{"p":6,"i":14,"lower_nmc":3.84,"upper_nmc":4.664,"lower_v_nmc":3.993,"upper_v_nmc":4.138,"post":3.114},
{"p":6,"i":15,"lower_nmc":3.847,"upper_nmc":4.664,"lower_v_nmc":4.011,"upper_v_nmc":4.138,"post":3.114},
{"p":6,"i":16,"lower_nmc":3.865,"upper_nmc":4.682,"lower_v_nmc":4.022,"upper_v_nmc":4.145,"post":3.212},
{"p":6,"i":17,"lower_nmc":3.876,"upper_nmc":4.701,"lower_v_nmc":4.029,"upper_v_nmc":4.156,"post":3.259},
{"p":6,"i":18,"lower_nmc":3.884,"upper_nmc":4.701,"lower_v_nmc":4.047,"upper_v_nmc":4.156,"post":3.23},
{"p":6,"i":19,"lower_nmc":3.902,"upper_nmc":4.711,"lower_v_nmc":4.047,"upper_v_nmc":4.174,"post":3.194},
{"p":6,"i":20,"lower_nmc":3.811,"upper_nmc":4.726,"lower_v_nmc":3.956,"upper_v_nmc":4.12,"post":3.041},
{"p":6,"i":21,"lower_nmc":3.84,"upper_nmc":4.719,"lower_v_nmc":3.963,"upper_v_nmc":4.131,"post":3.121},
{"p":6,"i":22,"lower_nmc":3.84,"upper_nmc":4.726,"lower_v_nmc":3.974,"upper_v_nmc":4.145,"post":3.067},
{"p":6,"i":23,"lower_nmc":3.884,"upper_nmc":4.737,"lower_v_nmc":4.029,"upper_v_nmc":4.181,"post":3.157},
{"p":6,"i":24,"lower_nmc":3.913,"upper_nmc":4.748,"lower_v_nmc":4.047,"upper_v_nmc":4.192,"post":3.139},
{"p":6,"i":25,"lower_nmc":3.92,"upper_nmc":4.81,"lower_v_nmc":4.065,"upper_v_nmc":4.203,"post":3.201},
{"p":6,"i":26,"lower_nmc":3.92,"upper_nmc":4.828,"lower_v_nmc":4.058,"upper_v_nmc":4.21,"post":3.248},
{"p":6,"i":27,"lower_nmc":3.927,"upper_nmc":4.828,"lower_v_nmc":4.065,"upper_v_nmc":4.21,"post":3.165},
{"p":6,"i":28,"lower_nmc":3.993,"upper_nmc":4.893,"lower_v_nmc":4.138,"upper_v_nmc":4.265,"post":3.23},
{"p":6,"i":29,"lower_nmc":4.029,"upper_nmc":4.944,"lower_v_nmc":4.192,"upper_v_nmc":4.319,"post":3.332},
{"p":6,"i":30,"lower_nmc":3.938,"upper_nmc":4.937,"lower_v_nmc":4.21,"upper_v_nmc":4.319,"post":3.339},
{"p":6,"i":31,"lower_nmc":4.029,"upper_nmc":4.937,"lower_v_nmc":4.228,"upper_v_nmc":4.348,"post":3.212},
{"p":6,"i":32,"lower_nmc":4.029,"upper_nmc":4.966,"lower_v_nmc":4.246,"upper_v_nmc":4.337,"post":3.393},
{"p":6,"i":33,"lower_nmc":4.022,"upper_nmc":4.966,"lower_v_nmc":4.239,"upper_v_nmc":4.348,"post":3.332},
{"p":6,"i":34,"lower_nmc":4.011,"upper_nmc":4.98,"lower_v_nmc":4.246,"upper_v_nmc":4.348,"post":3.285},
{"p":6,"i":35,"lower_nmc":3.956,"upper_nmc":4.973,"lower_v_nmc":4.228,"upper_v_nmc":4.319,"post":3.441},
{"p":6,"i":36,"lower_nmc":4.058,"upper_nmc":5.009,"lower_v_nmc":4.283,"upper_v_nmc":4.374,"post":3.357},
{"p":6,"i":37,"lower_nmc":4.083,"upper_nmc":5.046,"lower_v_nmc":4.29,"upper_v_nmc":4.392,"post":3.346},
{"p":6,"i":38,"lower_nmc":4.029,"upper_nmc":5.053,"lower_v_nmc":4.283,"upper_v_nmc":4.392,"post":3.375},
{"p":6,"i":39,"lower_nmc":4.102,"upper_nmc":5.046,"lower_v_nmc":4.301,"upper_v_nmc":4.428,"post":3.266},
{"p":6,"i":40,"lower_nmc":4.109,"upper_nmc":5.075,"lower_v_nmc":4.319,"upper_v_nmc":4.436,"post":3.477},
{"p":6,"i":41,"lower_nmc":4.131,"upper_nmc":5.136,"lower_v_nmc":4.301,"upper_v_nmc":4.465,"post":3.448},
{"p":6,"i":42,"lower_nmc":4.156,"upper_nmc":5.191,"lower_v_nmc":4.356,"upper_v_nmc":4.537,"post":3.43},
{"p":6,"i":43,"lower_nmc":4.083,"upper_nmc":5.256,"lower_v_nmc":4.312,"upper_v_nmc":4.501,"post":3.31},
{"p":6,"i":44,"lower_nmc":4.181,"upper_nmc":5.263,"lower_v_nmc":4.356,"upper_v_nmc":4.519,"post":3.43},
{"p":6,"i":45,"lower_nmc":4.156,"upper_nmc":5.282,"lower_v_nmc":4.348,"upper_v_nmc":4.519,"post":3.43},
{"p":6,"i":46,"lower_nmc":4.138,"upper_nmc":5.409,"lower_v_nmc":4.319,"upper_v_nmc":4.494,"post":3.266},
{"p":6,"i":47,"lower_nmc":4.174,"upper_nmc":5.445,"lower_v_nmc":4.399,"upper_v_nmc":4.555,"post":3.393},
{"p":6,"i":48,"lower_nmc":4.174,"upper_nmc":5.452,"lower_v_nmc":4.392,"upper_v_nmc":4.544,"post":3.375},
{"p":6,"i":49,"lower_nmc":4.167,"upper_nmc":5.554,"lower_v_nmc":4.399,"upper_v_nmc":4.555,"post":3.411}
]},
"spacing": 25,
"resolve": {"scale": {"x": "independent", "y": "independent", "color": "independent"}, "legend": {"color": "independent"}},
"vconcat": [
{
 "title": {"text": "Num Predictors=1", "orient": "left", "fontSize": 21, "offset": -13, "anchor": "middle", "baseline": "bottom", "dx": -17},
 "bounds": "flush",
 "spacing": 72,
 "resolve": {"scale": {"x": "independent", "y": "independent", "color": "independent"}, "legend": {"color": "independent"}},
 "hconcat": [
 {
  "width": 302, "height": 290,
  "title": {"text": "Prior Covariance=1.0", "baseline": "alphabetic", "offset": -17},
  "transform": [{"filter": "datum.p == 1"}, {"fold": ["lower_nmc","upper_nmc","lower_v_nmc","upper_v_nmc","post"], "as": ["series","value"]}],
  "encoding": {
    "x": {"field": "i", "type": "quantitative", "scale": {"domain": [-2.45, 51.45], "nice": false, "zero": false}, "axis": null},
    "y": {"field": "value", "type": "quantitative", "scale": {"domain": [0.893, 1.739], "nice": false, "zero": false}, "axis": {"values": [1.0,1.2,1.4,1.6], "format": ".1f", "title": "EIG(Design)", "titleFontSize": 17, "titlePadding": 11, "minExtent": 40, "maxExtent": 40}},
    "color": {"field": "series", "type": "nominal", "scale": {"domain": ["lower_nmc","upper_nmc","lower_v_nmc","upper_v_nmc","post"], "range": ["#008000","#008000","#0000ff","#0000ff","#ffa500"]},
      "legend": {"orient": "top-left", "offset": 10, "title": null, "fillColor": "rgba(255,255,255,0.8)", "strokeColor": "#cccccc", "cornerRadius": 4, "padding": 8, "labelFontSize": 19, "labelFont": "DejaVu Sans", "labelColor": "black", "symbolSize": 400, "symbolStrokeWidth": 2.5, "rowPadding": 8.7, "symbolOffset": 7, "labelOffset": 31,
        "encode": {"symbols": {"update": {
          "shape": {"signal": "indexof(datum.value, 'upper') === 0 ? 'M-1.9,0L-1.7,0M-1.35,0L-1.15,0M-0.8,0L-0.6,0M0.6,0L0.8,0M1.15,0L1.35,0M1.7,0L1.9,0M0,-0.62L0.147,-0.202L0.59,-0.19L0.238,0.077L0.364,0.502L0,0.25L-0.364,0.502L-0.238,0.077L-0.59,-0.19L-0.147,-0.202Z' : 'M-1.9,0L-1.15,0M1.15,0L1.9,0M0.53,0L0.459,0.265L0.265,0.459L0,0.53L-0.265,0.459L-0.459,0.265L-0.53,0L-0.459,-0.265L-0.265,-0.459L0,-0.53L0.265,-0.459L0.459,-0.265Z'"},
          "fill": {"signal": "datum.value === 'post' ? '#ffa500' : (indexof(datum.value, '_v_') >= 0 ? '#0000ff' : '#008000')"},
          "stroke": {"signal": "datum.value === 'post' ? '#ffa500' : (indexof(datum.value, '_v_') >= 0 ? '#0000ff' : '#008000')"},
          "strokeWidth": {"value": 2.5}, "opacity": {"value": 1}, "size": {"value": 400}}}}}}
  },
  "layer": [
    {"transform": [{"filter": {"field": "series", "oneOf": ["lower_v_nmc","upper_v_nmc"]}}], "mark": {"type": "line", "opacity": 0.28, "strokeWidth": 14, "strokeJoin": "round"}},
    {"transform": [{"filter": {"not": {"field": "series", "oneOf": ["lower_v_nmc","upper_v_nmc"]}}}], "mark": {"type": "line", "opacity": 0.28, "strokeWidth": 7, "strokeJoin": "round"}},
    {"mark": {"type": "line", "strokeWidth": 2},
     "encoding": {"strokeDash": {"field": "series", "type": "nominal", "scale": {"domain": ["lower_nmc","upper_nmc","lower_v_nmc","upper_v_nmc","post"], "range": [[7.4,3.2],[2,3.3],[7.4,3.2],[2,3.3],[7.4,3.2]]}, "legend": null}}},
    {"mark": {"type": "point", "filled": true, "size": 80, "opacity": 1},
     "encoding": {"shape": {"field": "series", "type": "nominal", "scale": {"domain": ["lower_nmc","upper_nmc","lower_v_nmc","upper_v_nmc","post"], "range": ["circle","M0,-1L0.235,-0.324L0.951,-0.309L0.38,0.124L0.588,0.809L0,0.4L-0.588,0.809L-0.38,0.124L-0.951,-0.309L-0.235,-0.324Z","circle","M0,-1L0.235,-0.324L0.951,-0.309L0.38,0.124L0.588,0.809L0,0.4L-0.588,0.809L-0.38,0.124L-0.951,-0.309L-0.235,-0.324Z","circle"]}, "legend": null}}}
  ]
 },
 {
  "width": 302, "height": 290,
  "title": {"text": "Prior Covariance=5.0", "baseline": "alphabetic", "offset": -17},
  "transform": [{"filter": "datum.p == 2"}, {"fold": ["lower_nmc","upper_nmc","lower_v_nmc","upper_v_nmc","post"], "as": ["series","value"]}],
  "encoding": {
    "x": {"field": "i", "type": "quantitative", "scale": {"domain": [-2.45, 51.45], "nice": false, "zero": false}, "axis": null},
    "y": {"field": "value", "type": "quantitative", "scale": {"domain": [1.425, 2.534], "nice": false, "zero": false}, "axis": {"values": [1.6,1.8,2.0,2.2,2.4], "format": ".1f", "title": null}},
    "color": {"field": "series", "type": "nominal", "scale": {"domain": ["lower_nmc","upper_nmc","lower_v_nmc","upper_v_nmc","post"], "range": ["#008000","#008000","#0000ff","#0000ff","#ffa500"]}, "legend": null}
  },
  "layer": [
    {"mark": {"type": "line", "opacity": 0.28, "strokeWidth": 6, "strokeJoin": "round"}},
    {"mark": {"type": "line", "strokeWidth": 2},
     "encoding": {"strokeDash": {"field": "series", "type": "nominal", "scale": {"domain": ["lower_nmc","upper_nmc","lower_v_nmc","upper_v_nmc","post"], "range": [[7.4,3.2],[2,3.3],[7.4,3.2],[2,3.3],[7.4,3.2]]}, "legend": null}}},
    {"mark": {"type": "point", "filled": true, "size": 80, "opacity": 1},
     "encoding": {"shape": {"field": "series", "type": "nominal", "scale": {"domain": ["lower_nmc","upper_nmc","lower_v_nmc","upper_v_nmc","post"], "range": ["circle","M0,-1L0.235,-0.324L0.951,-0.309L0.38,0.124L0.588,0.809L0,0.4L-0.588,0.809L-0.38,0.124L-0.951,-0.309L-0.235,-0.324Z","circle","M0,-1L0.235,-0.324L0.951,-0.309L0.38,0.124L0.588,0.809L0,0.4L-0.588,0.809L-0.38,0.124L-0.951,-0.309L-0.235,-0.324Z","circle"]}, "legend": null}}}
  ]
 },
 {
  "width": 294, "height": 290,
  "title": {"text": "Prior Covariance=25.0", "baseline": "alphabetic", "offset": -17},
  "transform": [{"filter": "datum.p == 3"}, {"fold": ["lower_nmc","upper_nmc","lower_v_nmc","upper_v_nmc","post"], "as": ["series","value"]}],
  "encoding": {
    "x": {"field": "i", "type": "quantitative", "scale": {"domain": [-2.45, 51.45], "nice": false, "zero": false}, "axis": null},
    "y": {"field": "value", "type": "quantitative", "scale": {"domain": [1.664, 3.108], "nice": false, "zero": false}, "axis": {"values": [1.75,2.0,2.25,2.5,2.75,3.0], "format": ".2f", "title": null}},
    "color": {"field": "series", "type": "nominal", "scale": {"domain": ["lower_nmc","upper_nmc","lower_v_nmc","upper_v_nmc","post"], "range": ["#008000","#008000","#0000ff","#0000ff","#ffa500"]}, "legend": null}
  },
  "layer": [
    {"mark": {"type": "line", "opacity": 0.28, "strokeWidth": 6, "strokeJoin": "round"}},
    {"mark": {"type": "line", "strokeWidth": 2},
     "encoding": {"strokeDash": {"field": "series", "type": "nominal", "scale": {"domain": ["lower_nmc","upper_nmc","lower_v_nmc","upper_v_nmc","post"], "range": [[7.4,3.2],[2,3.3],[7.4,3.2],[2,3.3],[7.4,3.2]]}, "legend": null}}},
    {"mark": {"type": "point", "filled": true, "size": 80, "opacity": 1},
     "encoding": {"shape": {"field": "series", "type": "nominal", "scale": {"domain": ["lower_nmc","upper_nmc","lower_v_nmc","upper_v_nmc","post"], "range": ["circle","M0,-1L0.235,-0.324L0.951,-0.309L0.38,0.124L0.588,0.809L0,0.4L-0.588,0.809L-0.38,0.124L-0.951,-0.309L-0.235,-0.324Z","circle","M0,-1L0.235,-0.324L0.951,-0.309L0.38,0.124L0.588,0.809L0,0.4L-0.588,0.809L-0.38,0.124L-0.951,-0.309L-0.235,-0.324Z","circle"]}, "legend": null}}}
  ]
 }
 ]
},
{
 "title": {"text": "Num Predictors=5", "orient": "left", "fontSize": 21, "offset": -13, "anchor": "middle", "baseline": "bottom", "dx": 21},
 "bounds": "flush",
 "spacing": 72,
 "resolve": {"scale": {"x": "independent", "y": "independent", "color": "independent"}, "legend": {"color": "independent"}},
 "hconcat": [
 {
  "width": 302, "height": 290,
  "transform": [{"filter": "datum.p == 4"}, {"fold": ["lower_nmc","upper_nmc","lower_v_nmc","upper_v_nmc","post"], "as": ["series","value"]}],
  "encoding": {
    "x": {"field": "i", "type": "quantitative", "scale": {"domain": [-2.45, 51.45], "nice": false, "zero": false}, "axis": {"title": "Design (Sorted by nmc)", "titleFontSize": 19, "labels": false, "ticks": false, "domain": false, "titlePadding": 9}},
    "y": {"field": "value", "type": "quantitative", "scale": {"domain": [1.701, 2.9925], "nice": false, "zero": false}, "axis": {"values": [1.8,2.0,2.2,2.4,2.6,2.8], "format": ".1f", "title": "EIG(Design)", "titleFontSize": 17, "titlePadding": 11, "minExtent": 40, "maxExtent": 40}},
    "color": {"field": "series", "type": "nominal", "scale": {"domain": ["lower_nmc","upper_nmc","lower_v_nmc","upper_v_nmc","post"], "range": ["#008000","#008000","#0000ff","#0000ff","#ffa500"]}, "legend": null}
  },
  "layer": [
    {"transform": [{"filter": {"field": "series", "oneOf": ["lower_v_nmc","upper_v_nmc"]}}], "mark": {"type": "line", "opacity": 0.28, "strokeWidth": 13, "strokeJoin": "round"}},
    {"transform": [{"filter": {"not": {"field": "series", "oneOf": ["lower_v_nmc","upper_v_nmc"]}}}], "mark": {"type": "line", "opacity": 0.28, "strokeWidth": 7, "strokeJoin": "round"}},
    {"mark": {"type": "line", "strokeWidth": 2},
     "encoding": {"strokeDash": {"field": "series", "type": "nominal", "scale": {"domain": ["lower_nmc","upper_nmc","lower_v_nmc","upper_v_nmc","post"], "range": [[7.4,3.2],[2,3.3],[7.4,3.2],[2,3.3],[7.4,3.2]]}, "legend": null}}},
    {"mark": {"type": "point", "filled": true, "size": 80, "opacity": 1},
     "encoding": {"shape": {"field": "series", "type": "nominal", "scale": {"domain": ["lower_nmc","upper_nmc","lower_v_nmc","upper_v_nmc","post"], "range": ["circle","M0,-1L0.235,-0.324L0.951,-0.309L0.38,0.124L0.588,0.809L0,0.4L-0.588,0.809L-0.38,0.124L-0.951,-0.309L-0.235,-0.324Z","circle","M0,-1L0.235,-0.324L0.951,-0.309L0.38,0.124L0.588,0.809L0,0.4L-0.588,0.809L-0.38,0.124L-0.951,-0.309L-0.235,-0.324Z","circle"]}, "legend": null}}}
  ]
 },
 {
  "width": 302, "height": 290,
  "transform": [{"filter": "datum.p == 5"}, {"fold": ["lower_nmc","upper_nmc","lower_v_nmc","upper_v_nmc","post"], "as": ["series","value"]}],
  "encoding": {
    "x": {"field": "i", "type": "quantitative", "scale": {"domain": [-2.45, 51.45], "nice": false, "zero": false}, "axis": {"title": "Design (Sorted by nmc)", "titleFontSize": 19, "labels": false, "ticks": false, "domain": false, "titlePadding": 9}},
    "y": {"field": "value", "type": "quantitative", "scale": {"domain": [2.293, 4.415], "nice": false, "zero": false}, "axis": {"values": [2.5,3.0,3.5,4.0], "format": ".1f", "title": null}},
    "color": {"field": "series", "type": "nominal", "scale": {"domain": ["lower_nmc","upper_nmc","lower_v_nmc","upper_v_nmc","post"], "range": ["#008000","#008000","#0000ff","#0000ff","#ffa500"]}, "legend": null}
  },
  "layer": [
    {"mark": {"type": "line", "opacity": 0.28, "strokeWidth": 6, "strokeJoin": "round"}},
    {"mark": {"type": "line", "strokeWidth": 2},
     "encoding": {"strokeDash": {"field": "series", "type": "nominal", "scale": {"domain": ["lower_nmc","upper_nmc","lower_v_nmc","upper_v_nmc","post"], "range": [[7.4,3.2],[2,3.3],[7.4,3.2],[2,3.3],[7.4,3.2]]}, "legend": null}}},
    {"mark": {"type": "point", "filled": true, "size": 80, "opacity": 1},
     "encoding": {"shape": {"field": "series", "type": "nominal", "scale": {"domain": ["lower_nmc","upper_nmc","lower_v_nmc","upper_v_nmc","post"], "range": ["circle","M0,-1L0.235,-0.324L0.951,-0.309L0.38,0.124L0.588,0.809L0,0.4L-0.588,0.809L-0.38,0.124L-0.951,-0.309L-0.235,-0.324Z","circle","M0,-1L0.235,-0.324L0.951,-0.309L0.38,0.124L0.588,0.809L0,0.4L-0.588,0.809L-0.38,0.124L-0.951,-0.309L-0.235,-0.324Z","circle"]}, "legend": null}}}
  ]
 },
 {
  "width": 294, "height": 290,
  "transform": [{"filter": "datum.p == 6"}, {"fold": ["lower_nmc","upper_nmc","lower_v_nmc","upper_v_nmc","post"], "as": ["series","value"]}],
  "encoding": {
    "x": {"field": "i", "type": "quantitative", "scale": {"domain": [-2.45, 51.45], "nice": false, "zero": false}, "axis": {"title": "Design (Sorted by nmc)", "titleFontSize": 19, "labels": false, "ticks": false, "domain": false, "titlePadding": 9}},
    "y": {"field": "value", "type": "quantitative", "scale": {"domain": [2.659, 5.819], "nice": false, "zero": false}, "axis": {"values": [3.0,3.5,4.0,4.5,5.0,5.5], "format": ".1f", "title": null}},
    "color": {"field": "series", "type": "nominal", "scale": {"domain": ["lower_nmc","upper_nmc","lower_v_nmc","upper_v_nmc","post"], "range": ["#008000","#008000","#0000ff","#0000ff","#ffa500"]}, "legend": null}
  },
  "layer": [
    {"transform": [{"filter": {"field": "series", "equal": "upper_nmc"}}], "mark": {"type": "line", "opacity": 0.28, "strokeWidth": 11, "strokeJoin": "round"}},
    {"transform": [{"filter": {"not": {"field": "series", "equal": "upper_nmc"}}}], "mark": {"type": "line", "opacity": 0.28, "strokeWidth": 5, "strokeJoin": "round"}},
    {"mark": {"type": "line", "strokeWidth": 2},
     "encoding": {"strokeDash": {"field": "series", "type": "nominal", "scale": {"domain": ["lower_nmc","upper_nmc","lower_v_nmc","upper_v_nmc","post"], "range": [[7.4,3.2],[2,3.3],[7.4,3.2],[2,3.3],[7.4,3.2]]}, "legend": null}}},
    {"mark": {"type": "point", "filled": true, "size": 80, "opacity": 1},
     "encoding": {"shape": {"field": "series", "type": "nominal", "scale": {"domain": ["lower_nmc","upper_nmc","lower_v_nmc","upper_v_nmc","post"], "range": ["circle","M0,-1L0.235,-0.324L0.951,-0.309L0.38,0.124L0.588,0.809L0,0.4L-0.588,0.809L-0.38,0.124L-0.951,-0.309L-0.235,-0.324Z","circle","M0,-1L0.235,-0.324L0.951,-0.309L0.38,0.124L0.588,0.809L0,0.4L-0.588,0.809L-0.38,0.124L-0.951,-0.309L-0.235,-0.324Z","circle"]}, "legend": null}}}
  ]
 }
 ]
}
]
}
